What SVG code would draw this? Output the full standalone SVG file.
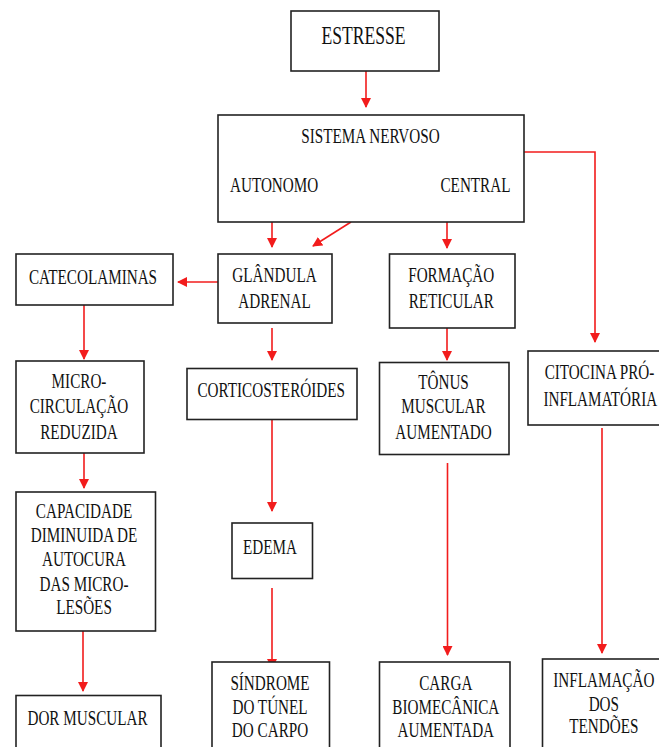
<svg xmlns="http://www.w3.org/2000/svg" width="659" height="747" viewBox="0 0 659 747">
<defs>
<style>
.box{fill:#fff;stroke:#222;stroke-width:1.6}
text{font-family:"Liberation Serif","Times New Roman",serif;font-size:22px;fill:#111;text-anchor:middle}
.big{font-size:25.5px}
.st{text-anchor:start}
.c line,.c polyline{stroke:#f21c1c;stroke-width:1.6;fill:none}
</style>
<marker id="ah" markerWidth="10" markerHeight="10" refX="9" refY="5" orient="auto" markerUnits="userSpaceOnUse" viewBox="0 0 10 10">
<path d="M0,0 L10,5 L0,10 Z" fill="#f21c1c"/>
</marker>
</defs>
<rect width="659" height="747" fill="#fff"/>
<g class="c" id="connectors">
<line x1="366" y1="71" x2="366" y2="107" marker-end="url(#ah)"/>
<line x1="272" y1="222" x2="272" y2="247" marker-end="url(#ah)"/>
<line x1="351" y1="222" x2="313" y2="246" marker-end="url(#ah)"/>
<line x1="447" y1="222" x2="447" y2="248" marker-end="url(#ah)"/>
<polyline points="524,152 595,152 595,342" marker-end="url(#ah)"/>
<line x1="218" y1="282" x2="178" y2="282" marker-end="url(#ah)"/>
<line x1="84" y1="305" x2="84" y2="359" marker-end="url(#ah)"/>
<line x1="272" y1="328" x2="272" y2="360" marker-end="url(#ah)"/>
<line x1="84" y1="453" x2="84" y2="488" marker-end="url(#ah)"/>
<line x1="272" y1="419" x2="272" y2="511" marker-end="url(#ah)"/>
<line x1="447" y1="328" x2="447" y2="360" marker-end="url(#ah)"/>
<line x1="447.5" y1="463" x2="447.5" y2="655" marker-end="url(#ah)"/>
<line x1="602" y1="428" x2="602" y2="653" marker-end="url(#ah)"/>
<line x1="83" y1="627" x2="83" y2="691" marker-end="url(#ah)"/>
<line x1="272" y1="588" x2="272" y2="668" marker-end="url(#ah)"/>
</g>
<g id="estresse">
<rect class="box" x="291" y="11" width="148" height="60"/>
<text class="big" transform="translate(363.5 43.5) scale(0.69 1)">ESTRESSE</text>
</g>
<g id="sistema-nervoso">
<rect class="box" x="218" y="115" width="306" height="107"/>
<text transform="translate(370.5 142.7) scale(0.69 1)">SISTEMA NERVOSO</text>
<text class="st" transform="translate(230 192) scale(0.69 1)">AUTONOMO</text>
<text class="st" transform="translate(440.5 192) scale(0.69 1)">CENTRAL</text>
</g>
<g id="catecolaminas">
<rect class="box" x="16" y="254" width="157" height="51"/>
<text transform="translate(93 284.3) scale(0.69 1)">CATECOLAMINAS</text>
</g>
<g id="glandula">
<rect class="box" x="218" y="254" width="114" height="69"/>
<text transform="translate(274.5 281.7) scale(0.69 1)">GLÂNDULA</text>
<text transform="translate(274.5 308) scale(0.69 1)">ADRENAL</text>
</g>
<g id="formacao">
<rect class="box" x="389.5" y="254" width="125.5" height="74"/>
<text transform="translate(451.2 281.7) scale(0.69 1)">FORMAÇÃO</text>
<text transform="translate(451.2 308.3) scale(0.69 1)">RETICULAR</text>
</g>
<g id="microcirculacao">
<rect class="box" x="16" y="361" width="128" height="92"/>
<text transform="translate(79 388.3) scale(0.69 1)">MICRO-</text>
<text transform="translate(79 412.7) scale(0.69 1)">CIRCULAÇÃO</text>
<text transform="translate(79 439) scale(0.69 1)">REDUZIDA</text>
</g>
<g id="corticosteroides">
<rect class="box" x="187" y="368.5" width="170" height="51"/>
<text transform="translate(271.2 396.7) scale(0.69 1)">CORTICOSTERÓIDES</text>
</g>
<g id="tonus">
<rect class="box" x="379.5" y="362.5" width="129.5" height="92"/>
<text transform="translate(443.5 389) scale(0.69 1)">TÔNUS</text>
<text transform="translate(443.5 413.3) scale(0.69 1)">MUSCULAR</text>
<text transform="translate(443.5 439) scale(0.69 1)">AUMENTADO</text>
</g>
<g id="citocina">
<rect class="box" x="528" y="351" width="145" height="74"/>
<text transform="translate(599.5 379.3) scale(0.69 1)">CITOCINA PRÓ-</text>
<text transform="translate(600.3 405.7) scale(0.69 1)">INFLAMATÓRIA</text>
</g>
<g id="capacidade">
<rect class="box" x="16" y="492" width="139.5" height="139"/>
<text transform="translate(84 518.3) scale(0.69 1)">CAPACIDADE</text>
<text transform="translate(84 541.7) scale(0.69 1)">DIMINUIDA DE</text>
<text transform="translate(84 566) scale(0.69 1)">AUTOCURA</text>
<text transform="translate(84 590.7) scale(0.69 1)">DAS MICRO-</text>
<text transform="translate(84 614.3) scale(0.69 1)">LESÕES</text>
</g>
<g id="edema">
<rect class="box" x="232" y="523" width="80.5" height="55.5"/>
<text transform="translate(270 554) scale(0.69 1)">EDEMA</text>
</g>
<g id="dor-muscular">
<rect class="box" x="16" y="695.5" width="145" height="60"/>
<text transform="translate(87.5 725) scale(0.69 1)">DOR MUSCULAR</text>
</g>
<g id="sindrome">
<rect class="box" x="212" y="662" width="117.5" height="95"/>
<text transform="translate(270 690) scale(0.69 1)">SÍNDROME</text>
<text transform="translate(270 714.3) scale(0.69 1)">DO TÚNEL</text>
<text transform="translate(270 736.7) scale(0.69 1)">DO CARPO</text>
</g>
<g id="carga">
<rect class="box" x="379.5" y="662" width="130.5" height="95"/>
<text transform="translate(445.8 690) scale(0.69 1)">CARGA</text>
<text transform="translate(445.8 714.3) scale(0.69 1)">BIOMECÂNICA</text>
<text transform="translate(445.8 736.7) scale(0.69 1)">AUMENTADA</text>
</g>
<g id="inflamacao">
<rect class="box" x="542.5" y="659" width="130" height="98"/>
<text transform="translate(603.8 686.7) scale(0.69 1)">INFLAMAÇÃO</text>
<text transform="translate(603.8 710.7) scale(0.69 1)">DOS</text>
<text transform="translate(603.8 733.3) scale(0.69 1)">TENDÕES</text>
</g>
</svg>
